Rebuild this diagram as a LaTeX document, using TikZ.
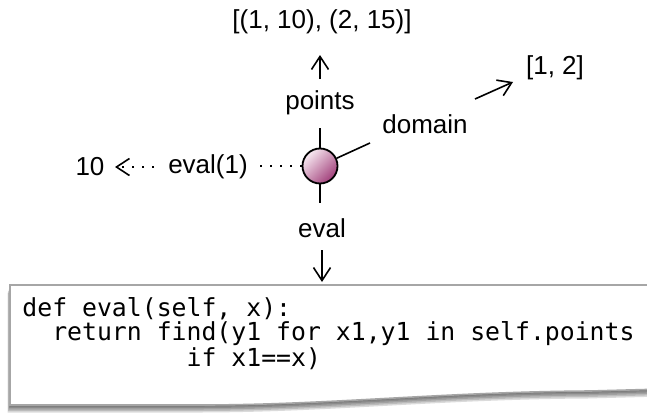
\documentclass[tikz,border=0pt]{standalone}
\usepackage{fontspec}
\setmainfont{Liberation Sans}
\setmonofont{DejaVu Sans Mono}
\usetikzlibrary{arrows.meta}
\definecolor{objlight}{HTML}{F8EAF2}
\definecolor{objmid}{HTML}{DDA6C4}
\definecolor{objdark}{HTML}{A13F7A}
\newcommand\paperpath{(10,285) -- (665,285) -- (665,389) -- (590,391) .. controls (440,392) and (330,405) .. (200,405) -- (10,405) -- cycle}
\tikzset{
	lbl/.style={font=\fontsize{13}{15}\selectfont, inner sep=1pt},
	stub/.style={line width=0.8pt},
	arr/.style={line width=0.8pt, -{Straight Barb[length=6.5pt,width=8.5pt]}},
	dots/.style={line width=0.9pt, dash pattern=on 0.9pt off 4.1pt},
}
\begin{document}
\begin{tikzpicture}[x=0.5pt,y=-0.5pt]
		\clip (0,0) rectangle (647,412);
		
		\foreach \s in {1,...,5}
			\fill[black, opacity=0.14] [shift={(-0.5*\s,1.5*\s)}] \paperpath;
		\filldraw[fill=white, draw=gray!70, line width=0.8pt] \paperpath;
		\node[anchor=north west, inner sep=0, align=left, font=\ttfamily\fontsize{12.4}{12}\selectfont] (code) at (22,297)
			{def eval(self, x):\\~~return find(y1 for x1,y1 in self.points\\~~~~~~~~~~~if x1==x)};
		
		\node[circle, draw, line width=0.9pt, minimum size=17.5pt, inner sep=0pt,
			top color=objlight, middle color=objmid, bottom color=objdark, shading angle=45] (obj) at (320,166) {};
		
		\node[lbl] (ptsval) at (322,22) {[(1, 10), (2, 15)]};
		\node[lbl] (ptslbl) at (320,103) {points};
		\node[lbl] (domlbl) at (425,124) {domain};
		\node[lbl] (domval) at (555,68) {[1, 2]};
		\node[lbl] (evlbl) at (322,228) {eval};
		\node[lbl] (callbl) at (208,167) {eval(1)};
		\node[lbl] (res) at (90,167) {10};
		
		\coordinate (ptsstub) at (320,128);
		\coordinate (evstub) at (320,203);
		\coordinate (domstub) at (370,143);
		\coordinate (calstub) at (258,166);
		\draw[stub] (obj.north) -- (ptsstub);
		\draw[stub] (obj.south) -- (evstub);
		\draw[stub] (obj.25) -- (domstub);
		\draw[dots] (obj.west) -- (calstub);
		
		\coordinate (ptsup) at (320,79);
		\coordinate (ptstip) at (320,55);
		\draw[arr] (ptsup) -- (ptstip);
		\coordinate (domup) at (475,99);
		\coordinate (domtip) at (513,82);
		\draw[arr] (domup) -- (domtip);
		\coordinate (evdown) at (322,250);
		\coordinate (evtip) at (322,282);
		\draw[arr] (evdown) -- (evtip);
		\coordinate (resfrom) at (154,167);
		\coordinate (restip) at (115,167);
		\draw[dots, arr] (resfrom) -- (restip);
		
\end{tikzpicture}
\end{document}
